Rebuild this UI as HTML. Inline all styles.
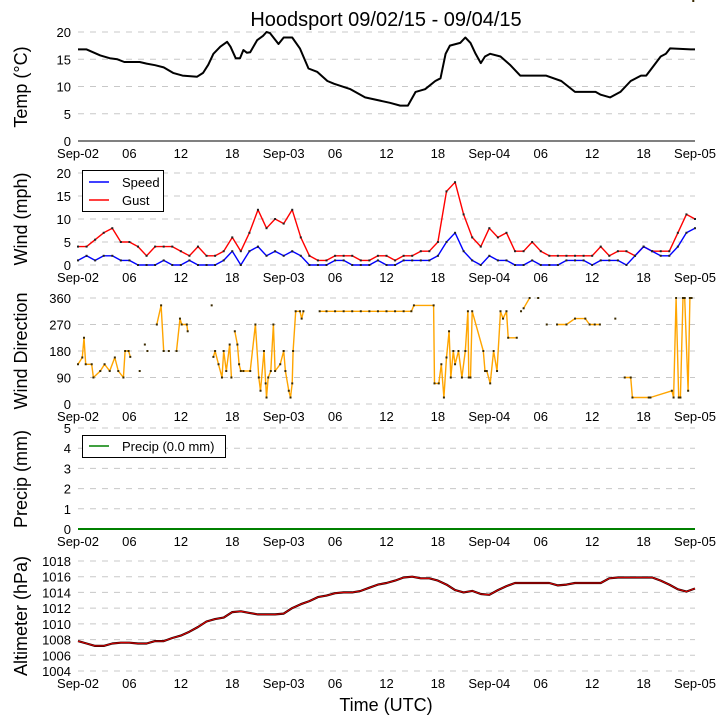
<!DOCTYPE html>
<html><head><meta charset="utf-8">
<style>
body{margin:0;background:#fff;}
svg{display:block;font-family:"Liberation Sans","DejaVu Sans",sans-serif;}
</style></head>
<body>
<svg id="chart" width="725" height="725" viewBox="0 0 725 725">
<text x="386" y="26" font-size="20" text-anchor="middle">Hoodsport 09/02/15 - 09/04/15</text>
<text x="386" y="711" font-size="18" text-anchor="middle">Time (UTC)</text>
</svg>
<script>
const xTickLabels = ["Sep-02","06","12","18","Sep-03","06","12","18","Sep-04","06","12","18","Sep-05"];
const xTickHours = [0,6,12,18,24,30,36,42,48,54,60,66,72];
const hours = [];
for (let h = 0; h <= 72; h++) hours.push(h);

const tempT = [0,1,2.6,3.7,4.6,5.4,7.2,8,9,10,11.1,12.2,13.9,14.6,15.2,15.8,16.6,17.4,17.8,18.4,18.9,19.3,19.7,20.1,20.9,21.6,22,22.4,23.4,24,25,25.9,26.9,27.9,29.1,29.9,31.8,33.5,36.4,37.6,38.5,39.4,40.5,41.7,42.3,42.9,43.4,44.6,45.2,45.8,46.4,47,47.5,48.1,49.3,50.4,51.6,54.6,56.4,58,60.4,61,62.1,63.3,64.5,65.7,66.3,66.8,68,68.6,69.1,71.5,72];
const tempV = [16.8,16.8,15.7,15.2,15,14.5,14.5,14.2,13.9,13.5,12.5,12,11.8,12.5,14,16,17.3,18.2,17.3,15.2,15.2,16.7,16.2,16.3,18.5,19.3,20,19.8,17.8,19,19,17,13.3,12.7,11,10.5,9.5,8,7,6.5,6.5,9,9.5,11,11.5,16,17.5,18,19,18,16,14.3,15.5,16,15.5,14,12,12,11,9,9,8.5,8,9,11,12,12,13,15.5,16,17,16.8,16.8];

const gustV = [4,4,5.5,7,8,5,5,4,2,4,4,4,3,2,4,2,2,3,6,3,7,12,8,10,9,12,6,2,1,1,2,2,2,1,1,2,2,1,2,2,3,3,5,16,18,11,6,4,8,6,7,3,3,5,3,2,2,2,2,2,2,4,2,3,3,2,4,3,3,3,7,11,10];
const speedV = [1,2,1,2,2,1,1,0,0,0,1,0,0,1,0,0,0,1,3,0,3,4,2,3,2,3,2,0,0,0,1,1,0,0,0,1,0,0,1,1,1,1,2,5,7,3,1,0,2,1,1,0,0,1,0,0,0,1,1,1,0,1,1,1,0,2,4,3,2,2,4,7,8];

const dirT = [0,0.5,0.7,0.9,1.6,1.8,2.6,3.1,3.7,4.3,4.7,5.3,5.5,5.9,6.1,null,7.2,null,7.8,null,8.1,null,9.2,9.7,10,null,10.6,null,11.5,11.9,12.1,12.7,12.8,null,15.6,null,15.8,16,16.4,16.8,17,17.3,17.7,17.9,null,18.3,18.6,18.8,19,19.3,20.1,20.7,21.1,21.3,21.7,21.9,22,22.2,22.5,22.8,23,23.6,24,24.2,24.6,24.8,25,25.1,25.4,25.9,26.1,26.3,null,28.2,29,30,31,32,33,34,35,36,37,38,38.9,39.2,41.5,41.6,42.1,42.4,42.7,43,43.3,43.5,43.8,44,44.4,44.8,45.2,45.5,45.6,45.8,46,47.3,47.5,47.7,48.1,48.5,48.9,49.3,49.6,50,50.2,51.2,51.4,51.7,null,52,52.7,53.2,53.7,null,54,54.7,null,55.9,57,58,59.2,59.7,60.3,60.9,61.5,62.7,null,63.8,64.5,64.7,66.6,66.8,69.3,69.5,69.8,70.1,70.3,70.6,70.8,71.2,71.4,71.6,71.8];
const dirV = [135,158,225,135,135,90,112,135,112,158,112,90,180,180,160,null,112,null,202,null,180,null,270,335,180,null,180,null,180,290,270,270,247,null,335,null,160,180,135,90,180,112,202,90,null,247,202,135,112,112,112,270,90,45,180,70,22,90,112,270,112,135,180,112,45,22,70,180,315,315,290,315,null,315,315,315,315,315,315,315,315,315,315,315,315,335,335,70,70,135,22,158,247,90,180,135,180,90,180,315,90,90,315,180,112,112,70,180,112,315,290,315,225,225,null,315,315,325,360,null,360,360,null,270,270,270,270,290,290,270,270,270,null,290,290,90,90,22,22,22,45,22,360,22,22,360,360,45,360,360];

const precipV = hours.map(() => 0);

const altV = [1007.8,1007.5,1007.2,1007.2,1007.5,1007.6,1007.6,1007.5,1007.5,1007.8,1007.8,1008.2,1008.5,1009,1009.6,1010.3,1010.6,1010.8,1011.5,1011.6,1011.4,1011.2,1011.2,1011.2,1011.3,1012,1012.5,1012.9,1013.4,1013.6,1013.9,1014,1014,1014.2,1014.6,1015,1015.2,1015.5,1015.9,1016,1015.8,1015.8,1015.5,1015,1014.3,1014,1014.2,1013.8,1013.7,1014.3,1014.8,1015.2,1015.2,1015.2,1015.2,1015.2,1014.9,1015,1015.2,1015.2,1015.2,1015.2,1015.8,1015.9,1015.9,1015.9,1015.9,1015.9,1015.5,1015,1014.4,1014.1,1014.5];

const tempTicks = [0,5,10,15,20];
const windTicks = [0,5,10,15,20];
const dirTicks = [0,90,180,270,360];
const precipTicks = [0,1,2,3,4,5];
const altTicks = [1004,1006,1008,1010,1012,1014,1016,1018];

const NS = "http://www.w3.org/2000/svg";
const svg = document.getElementById("chart");
const X0 = 78, X1 = 695;
function xs(h){ return X0 + (X1 - X0) * h / 72; }
function mk(tag, attrs, parent){
  const e = document.createElementNS(NS, tag);
  for (const k in attrs) e.setAttribute(k, attrs[k]);
  (parent || svg).appendChild(e);
  return e;
}
function panel(name, top, bottom, vmin, vmax, ticks, title, titleY){
  const g = mk("g", {});
  
  
  const ys = v => bottom - (v - vmin) / (vmax - vmin) * (bottom - top);
  ticks.forEach(t => {
    const l = mk("line", {x1:X0, x2:X1, y1:ys(t), y2:ys(t), stroke:"#c8c8c8", "stroke-dasharray":"6,6"}, g);
    
    
    const tx = mk("text", {x:71, y:ys(t)+5, "font-size":13, "text-anchor":"end"}, g);
    tx.textContent = t;
    
    
  });
  xTickHours.forEach((h, i) => {
    const tx = mk("text", {x:xs(h), y:bottom+17, "font-size":13, "text-anchor":"middle"}, g);
    tx.textContent = xTickLabels[i];
    
    
  });
  const yt = mk("text", {x:0, y:0, "font-size":18, "text-anchor":"middle", transform:"translate(27," + titleY + ") rotate(-90)"}, g);
  yt.textContent = title;
  
  
  return {g, ys};
}
function path(g, tArr, vArr, ys, color, width, name){
  let d = "", pen = false;
  for (let i = 0; i < tArr.length; i++){
    if (tArr[i] === null || vArr[i] === null){ pen = false; continue; }
    d += (pen ? "L" : "M") + xs(tArr[i]).toFixed(1) + "," + ys(vArr[i]).toFixed(1);
    pen = true;
  }
  const p = mk("path", {d, fill:"none", stroke:color, "stroke-width":width, "stroke-linejoin":"round"}, g);
  
  
  return p;
}
function dots(g, tArr, vArr, ys, color, name){
  for (let i = 0; i < tArr.length; i++){
    if (tArr[i] === null || vArr[i] === null) continue;
    const r = mk("rect", {x:xs(tArr[i])-1, y:ys(vArr[i])-1, width:2, height:2, fill:color}, g);
    
    
  }
}

// Temp
const p1 = panel("temp", 32, 141, 0, 20, tempTicks, "Temp (\u00B0C)", 87);
const sp = mk("line", {x1:X0, x2:X1, y1:141, y2:141, stroke:"#000", "stroke-width":1}, p1.g);


path(p1.g, tempT, tempV, p1.ys, "#000", 2, "temp-line");

// Wind
const p2 = panel("wind", 173, 265, 0, 20, windTicks, "Wind (mph)", 219);
path(p2.g, hours, gustV, p2.ys, "#ff0000", 1.4, "gust-line");
dots(p2.g, hours, gustV, p2.ys, "#222", "gust-point");
path(p2.g, hours, speedV, p2.ys, "#0000ff", 1.4, "speed-line");
dots(p2.g, hours, speedV, p2.ys, "#222", "speed-point");
const lg = mk("g", {}, p2.g);


mk("rect", {x:82.5, y:170.5, width:81, height:41, fill:"#fff", stroke:"#000"}, lg);
const l1 = mk("line", {x1:89, x2:109, y1:182, y2:182, stroke:"#0000ff", "stroke-width":1.5}, lg);


const t1 = mk("text", {x:122, y:187, "font-size":13}, lg); t1.textContent = "Speed";


const l2 = mk("line", {x1:89, x2:109, y1:200, y2:200, stroke:"#ff0000", "stroke-width":1.5}, lg);


const t2 = mk("text", {x:122, y:205, "font-size":13}, lg); t2.textContent = "Gust";



// Wind direction
const p3 = panel("wind-direction", 298, 404, 0, 360, dirTicks, "Wind Direction", 351);
path(p3.g, dirT, dirV, p3.ys, "#ffa500", 1.4, "wind-direction-line");
dots(p3.g, dirT, dirV, p3.ys, "#3a2a00", "wind-direction-point");

// Precip
const p4 = panel("precip", 428, 529, 0, 5, precipTicks, "Precip (mm)", 479);
path(p4.g, hours, precipV, p4.ys, "#008000", 2, "precip-line");
const lg2 = mk("g", {}, p4.g);


mk("rect", {x:82.5, y:435.5, width:143, height:22, fill:"#fff", stroke:"#000"}, lg2);
const l3 = mk("line", {x1:89, x2:109, y1:446, y2:446, stroke:"#008000", "stroke-width":1.5}, lg2);


const t3 = mk("text", {x:122, y:451, "font-size":13}, lg2); t3.textContent = "Precip (0.0 mm)";



// Altimeter
const p5 = panel("altimeter", 561, 671, 1004, 1018, altTicks, "Altimeter (hPa)", 616);
path(p5.g, hours, altV, p5.ys, "#300000", 2.2, "altimeter-line-shadow");
path(p5.g, hours, altV, p5.ys, "#ff0000", 0.8, "altimeter-line");
</script>
</body></html>
